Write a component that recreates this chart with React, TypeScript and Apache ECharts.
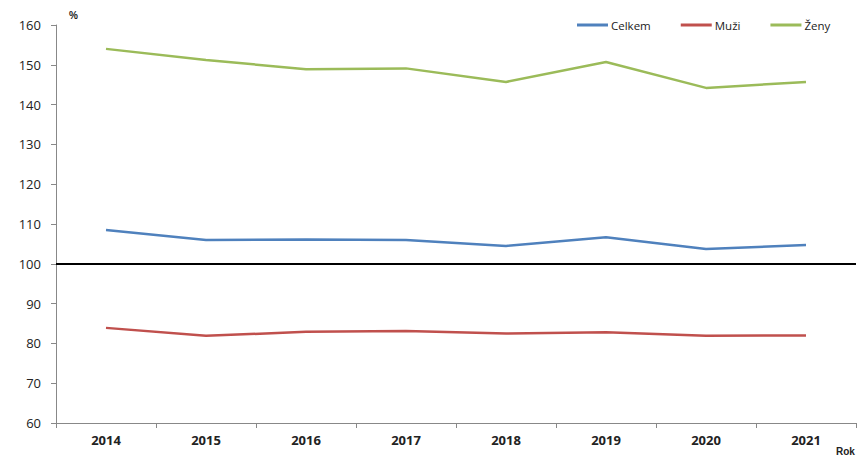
import React, { useEffect, useRef } from "react";
import * as echarts from "echarts";

const categories = ["2014", "2015", "2016", "2017", "2018", "2019", "2020", "2021"];
const celkem = [108.5, 106.0, 106.1, 106.0, 104.5, 106.7, 103.7, 104.7];
const muzi = [83.9, 81.9, 82.9, 83.1, 82.5, 82.8, 81.9, 82.0];
const zeny = [154.0, 151.2, 148.9, 149.1, 145.7, 150.7, 144.2, 145.7];
const baseline = 100;

export default function App() {
  const ref = useRef<HTMLDivElement>(null);
  useEffect(() => {
    const chart = echarts.init(ref.current!, null, { renderer: "svg" });
    const lineS = (name: string, data: number[], color: string) => ({
      name,
      type: "line",
      data,
      symbol: "none",
      lineStyle: { color, width: 2.5 },
      itemStyle: { color },
    });
    chart.setOption({
      animation: false,
      textStyle: { fontFamily: "Open Sans, Liberation Sans, sans-serif" },
      legend: {
        top: 19,
        left: 577,
        width: 280,
        padding: 0,
        itemWidth: 31,
        itemHeight: 3,
        itemGap: 30,
        icon: "rect",
        textStyle: { fontSize: 11.5, color: "#222", padding: [0, 0, 0, -2] },
        data: ["Celkem", "Muži", "Ženy"],
      },
      grid: { left: 56, right: 1, top: 25, bottom: 33 },
      xAxis: {
        type: "category",
        data: categories,
        boundaryGap: true,
        axisLine: { lineStyle: { color: "#888", width: 1 } },
        axisTick: { show: true, length: 5, inside: false, lineStyle: { color: "#888" } },
        axisLabel: { fontSize: 13, fontWeight: "bold", color: "#222", margin: 10 },
      },
      yAxis: {
        type: "value",
        min: 60,
        max: 160,
        interval: 10,
        splitLine: { show: false },
        axisLine: { show: true, lineStyle: { color: "#888", width: 1 } },
        axisTick: { show: true, length: 5, lineStyle: { color: "#888" } },
        axisLabel: { fontSize: 13, color: "#222", margin: 15 },
      },
      graphic: [
        { type: "text", left: 69, top: 10, style: { text: "%", fontSize: 10, fontWeight: "bold", fill: "#222" } },
        { type: "text", left: 836, top: 446, style: { text: "Rok", fontSize: 10, fontWeight: "bold", fill: "#222" } },
      ],
      series: [
        lineS("Celkem", celkem, "#4F81BD"),
        lineS("Muži", muzi, "#C0504D"),
        lineS("Ženy", zeny, "#9BBB59"),
        {
          name: "base",
          type: "line",
          data: categories.map(() => baseline),
          symbol: "none",
          lineStyle: { width: 0 },
          markLine: {
            silent: true,
            symbol: "none",
            label: { show: false },
            lineStyle: { color: "#000", width: 1.8, type: "solid" },
            data: [{ yAxis: baseline }],
          },
        },
      ],
    });
    return () => chart.dispose();
  }, []);
  return <div ref={ref} style={{ width: 857, height: 456, position: "absolute", left: 0, top: 0 }} />;
}
